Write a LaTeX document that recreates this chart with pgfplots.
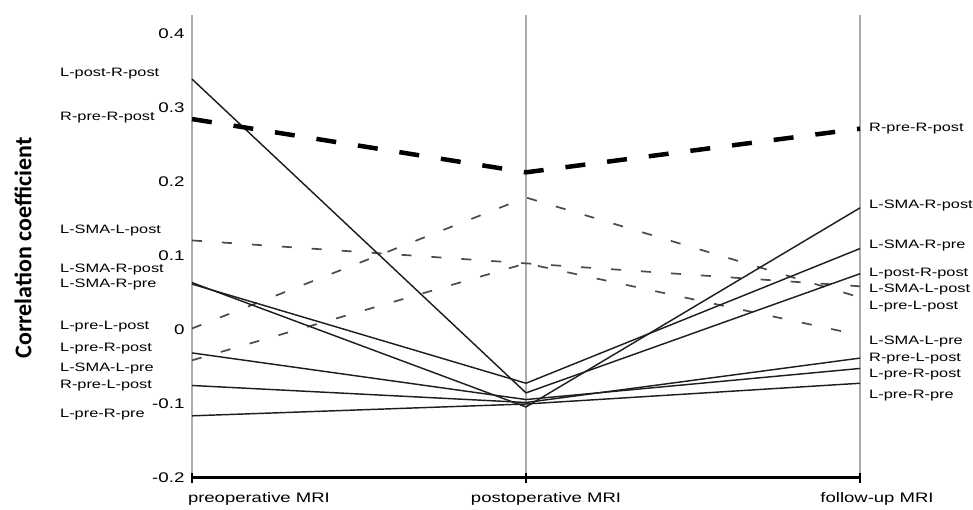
\documentclass[border=0pt]{standalone}
\usepackage{fontspec}
\setmainfont{Liberation Sans}[FakeStretch=1.34]
\newfontfamily\ylabfont{Carlito}
\usepackage{pgfplots}
\pgfplotsset{compat=1.18}
\definecolor{gridgray}{RGB}{172,172,172}
\definecolor{solidc}{RGB}{30,30,30}
\definecolor{dashc}{RGB}{75,75,75}
\tikzset{
  sl/.style={solidc, line width=1.45pt},
  dl/.style={dashc, line width=1.7pt, dash pattern=on 10pt off 20pt},
  tl/.style={black, line width=4.5pt, dash pattern=on 20pt off 22pt},
  lab/.style={anchor=west, inner sep=0pt, font=\fontsize{12.2}{14}\selectfont},
}
\begin{document}
\begin{tikzpicture}[x=1pt,y=1pt]
\useasboundingbox (0,0) rectangle (973,510);
\begin{axis}[
  at={(192pt,32pt)}, anchor=south west,
  scale only axis, width=668pt, height=463pt,
  xmin=0, xmax=2, ymin=-0.2, ymax=0.4256,
  axis line style={draw=none},
  clip=false,
  xtick={0,1,2},
  xticklabels={\makebox[0pt][l]{\hspace*{-4pt}preoperative MRI},\makebox[0pt][c]{\hspace*{40pt}postoperative MRI},\makebox[0pt][c]{\hspace*{34pt}follow-up MRI}},
  xticklabel style={font=\fontsize{13.8}{15}\selectfont, anchor=north, yshift=-6pt},
  ytick={-0.2,-0.1,0,0.1,0.2,0.3,0.4},
  yticklabels={-0.2,-0.1,0,0.1,0.2,\raisebox{-8pt}{0.3},0.4},
  yticklabel style={font=\fontsize{14}{16}\selectfont, xshift=-4pt},
  ytick style={draw=none},
  xtick style={black, line width=1.5pt},
  xtick align=center,
  major tick length=10pt,
  tick pos=left,
  xmajorgrids,
  major grid style={gridgray, line width=2pt},
]
% thin dashed
\addplot[dl] coordinates {(0,0.121) (1,0.090) (2,0.059)}; % L-SMA-L-post
\addplot[dl] coordinates {(0,0.002) (1,0.179) (2,0.044)}; % L-pre-L-post
\addplot[dl] coordinates {(0,-0.041) (1,0.090) (2,-0.007)}; % L-SMA-L-pre
% solid
\addplot[sl] coordinates {(0,0.339) (1,-0.085) (2,0.076)}; % L-post-R-post
\addplot[sl] coordinates {(0,0.064) (1,-0.104) (2,0.165)}; % L-SMA-R-post
\addplot[sl] coordinates {(0,0.062) (1,-0.072) (2,0.110)}; % L-SMA-R-pre
\addplot[sl] coordinates {(0,-0.031) (1,-0.094) (2,-0.052)}; % L-pre-R-post
\addplot[sl] coordinates {(0,-0.075) (1,-0.098) (2,-0.038)}; % R-pre-L-post
\addplot[sl] coordinates {(0,-0.116) (1,-0.100) (2,-0.072)}; % L-pre-R-pre
% thick dashed
\addplot[tl] coordinates {(0,0.285) (1,0.213) (2,0.272)}; % R-pre-R-post
% bottom axis line
\draw[black, line width=3pt] (axis cs:0,-0.2) -- (axis cs:2,-0.2);
% left labels
\node[lab] at (axis cs:-0.3952,0.347) {L-post-R-post};
\node[lab] at (axis cs:-0.3952,0.287) {R-pre-R-post};
\node[lab] at (axis cs:-0.3952,0.134) {L-SMA-L-post};
\node[lab] at (axis cs:-0.3952,0.082) {L-SMA-R-post};
\node[lab] at (axis cs:-0.3952,0.062) {L-SMA-R-pre};
\node[lab] at (axis cs:-0.3952,0.005) {L-pre-L-post};
\node[lab] at (axis cs:-0.3952,-0.025) {L-pre-R-post};
\node[lab] at (axis cs:-0.3952,-0.052) {L-SMA-L-pre};
\node[lab] at (axis cs:-0.3952,-0.075) {R-pre-L-post};
\node[lab] at (axis cs:-0.3952,-0.114) {L-pre-R-pre};
% right labels
\node[lab] at (axis cs:2.027,0.272) {R-pre-R-post};
\node[lab] at (axis cs:2.027,0.168) {L-SMA-R-post};
\node[lab] at (axis cs:2.027,0.114) {L-SMA-R-pre};
\node[lab] at (axis cs:2.027,0.076) {L-post-R-post};
\node[lab] at (axis cs:2.027,0.055) {L-SMA-L-post};
\node[lab] at (axis cs:2.027,0.032) {L-pre-L-post};
\node[lab] at (axis cs:2.027,-0.015) {L-SMA-L-pre};
\node[lab] at (axis cs:2.027,-0.038) {R-pre-L-post};
\node[lab] at (axis cs:2.027,-0.060) {L-pre-R-post};
\node[lab] at (axis cs:2.027,-0.088) {L-pre-R-pre};
\end{axis}
\node[rotate=90, inner sep=0pt, font=\ylabfont\bfseries\fontsize{24}{26}\selectfont] at (23,262) {Correlation coefficient};
\end{tikzpicture}
\end{document}
